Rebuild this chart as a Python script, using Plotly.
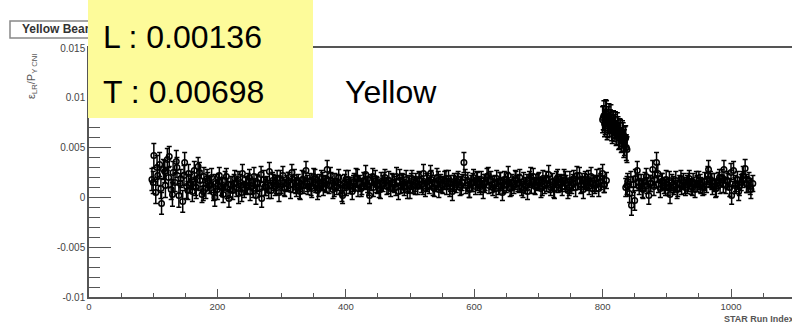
import plotly.graph_objects as go

# ---------------- data (asymmetry values and errors in units of 1e-4) ----------------
# Segment A: runs 98 .. 806 (every 3rd run index)
run_a = list(range(98, 807, 3))
asym_a = [
    18, 42, 5, 22, 33, -6, 28, 12, 38, 41,
    8, 25, 15, 30, 2, 19, -4, 35, 11, 24,
    14, 6, 27, 10, 31, 17, 3, 21, 9, 16,
    12, 20, 5, 14, 8, 22, 11, 3, 17, 9,
    -1, 13, 7, 19, 10, 4, 15, 24, 8, 12,
    16, 6, 11, 21, 2, 14, 9, -1, 18, 10,
    13, 26, 7, 15, 11, 19, 5, 12, 22, 9,
    14, 17, 8, 13, 20, 10, 15, 6, 18, 12,
    27, 11, 16, 9, 21, 13, 7, 15, 19, 10,
    14, 28, 12, 17, 8, 16, 11, 20, 13, 2,
    15, 10, 18, 12, 6, 16, 20, 9, 14, 11,
    17, 23, 13, 2, 15, 10, 19, 12, 8, 16,
    14, 20, 11, 17, 9, 15, 13, 21, 6, 12,
    16, 10, 18, 14, 7, 19, 12, 15, 11, 17,
    13, 24, 9, 16, 12, 18, 10, 14, 20, 8,
    15, 12, 17, 11, 19, 14, 6, 16, 13, 18,
    10, 15, 35, 12, 17, 9, 14, 20, 11, 16,
    13, 18, 8, 15, 21, 12, 17, 10, 14, 19,
    11, 16, 5, 18, 13, 22, 9, 15, 12, 17,
    14, 20, 10, 16, 12, 6, 18, 13, 21, 11,
    15, 17, 9, 19, 12, 14, 23, 10, 16, 8,
    18, 13, 15, 11, 20, 14, 7, 17, 12, 19,
    10, 16, 22, 13, 8, 18, 15, 11, 21, 14,
    12, 19, 9, 16, 24, 13, 17,
]
err_a = [
    11, 12, 11, 10, 12, 11, 10, 12, 11, 10,
    10, 11, 9, 10, 12, 9, 11, 10, 12, 9,
    9, 10, 9, 11, 9, 10, 8, 9, 10, 9,
    8, 9, 8, 9, 10, 8, 9, 8, 9, 10,
    9, 8, 9, 8, 9, 10, 8, 9, 8, 9,
    8, 9, 8, 9, 9, 8, 8, 9, 9, 8,
    8, 9, 8, 8, 9, 8, 9, 8, 9, 8,
    8, 8, 9, 8, 8, 9, 8, 8, 9, 8,
    9, 8, 8, 9, 8, 8, 9, 8, 8, 8,
    8, 9, 8, 8, 9, 8, 8, 8, 9, 8,
    8, 8, 9, 8, 8, 8, 9, 8, 8, 8,
    8, 9, 8, 8, 8, 9, 8, 8, 8, 9,
    8, 8, 8, 9, 8, 8, 8, 9, 8, 8,
    8, 8, 9, 8, 8, 8, 8, 9, 8, 8,
    8, 9, 8, 8, 8, 9, 8, 8, 9, 8,
    8, 8, 9, 8, 8, 8, 9, 8, 8, 8,
    8, 8, 10, 8, 8, 9, 8, 8, 8, 9,
    8, 8, 9, 8, 8, 8, 9, 8, 8, 8,
    8, 9, 8, 8, 8, 9, 8, 8, 8, 9,
    8, 8, 8, 9, 8, 8, 8, 9, 8, 8,
    8, 8, 9, 8, 8, 8, 9, 8, 8, 9,
    8, 8, 8, 9, 8, 8, 8, 9, 8, 8,
    9, 8, 8, 8, 9, 8, 8, 8, 9, 8,
    8, 9, 8, 8, 9, 8, 8,
]

# Segment A2: interleaved runs 100 .. 802
run_a2 = list(range(100, 806, 6))
asym_a2 = [
    15, 30, 9, 26, 20, 3, 36, 14, 22, 7,
    17, 11, 25, 6, 19, 13, 0, 16, 10, 21,
    8, 14, 18, 5, 12, 20, 9, 15, 23, 11,
    7, 17, 13, 19, 10, 16, 25, 12, 8, 18,
    14, 11, 20, 9, 16, 13, 22, 10, 15, 4,
    18, 12, 14, 19, 9, 16, 11, 21, 13, 8,
    17, 12, 15, 10, 20, 14, 7, 16, 12, 18,
    11, 15, 24, 9, 17, 13, 19, 10, 14, 16,
    12, 20, 8, 15, 18, 11, 14, 22, 13, 9,
    17, 12, 16, 10, 19, 14, 8, 15, 21, 12,
    16, 11, 18, 13, 9, 20, 14, 17, 10, 15,
    22, 12, 16, 18, 9, 14, 20, 13,
]
err_a2 = [
    11, 12, 10, 11, 10, 12, 11, 10, 10, 9,
    9, 9, 10, 9, 9, 8, 9, 8, 9, 8,
    8, 9, 8, 9, 8, 8, 9, 8, 8, 9,
    8, 8, 9, 8, 8, 9, 8, 8, 9, 8,
    8, 9, 8, 8, 9, 8, 8, 9, 8, 8,
    9, 8, 8, 9, 8, 8, 9, 8, 8, 9,
    8, 8, 9, 8, 8, 9, 8, 8, 9, 8,
    8, 9, 8, 8, 9, 8, 8, 9, 8, 8,
    9, 8, 8, 9, 8, 8, 9, 8, 8, 9,
    8, 8, 9, 8, 8, 9, 8, 8, 9, 8,
    8, 9, 8, 8, 9, 8, 8, 9, 8, 8,
    9, 8, 8, 9, 8, 8, 9, 8,
]

# Segment B: high group, runs 800 .. 838
run_b = list(range(800, 839, 2))
asym_b = [78, 82, 75, 84, 72, 80, 76, 70, 74, 68,
          73, 65, 69, 62, 66, 58, 63, 55, 60, 48]
err_b = [13, 15, 12, 13, 12, 14, 12, 13, 12, 12,
         13, 12, 12, 13, 12, 12, 12, 13, 12, 13]
run_b2 = list(range(801, 838, 2))
asym_b2 = [80, 74, 86, 70, 78, 73, 81, 67, 75, 71,
           64, 72, 60, 67, 57, 64, 52, 59, 50]
err_b2 = [12, 13, 12, 12, 13, 12, 12, 13, 12, 12,
          12, 13, 12, 12, 12, 13, 12, 12, 13]

# Segment C: runs 836 .. 1034
run_c = list(range(836, 1035, 3))
asym_c = [
    10, 16, 4, -8, 13, 19, 27, 11, 15, 8,
    17, 12, 2, 14, 28, 18, 35, 13, 9, 16,
    12, 18, 10, 3, 15, 11, 17, 9, 14, 12,
    16, 10, 13, 19, 11, 15, 8, 14, 17, 12,
    10, 16, 13, 28, 18, 11, 15, 9, 17, 13,
    20, 28, 12, 16, 10, 2, 27, 14, 18, 11,
    15, 22, 29, 13, 17, 8, 14,
]
err_c = [
    9, 8, 9, 10, 8, 9, 9, 8, 8, 9,
    8, 8, 9, 8, 9, 8, 10, 8, 9, 8,
    8, 9, 8, 9, 8, 8, 9, 8, 8, 9,
    8, 8, 9, 8, 8, 9, 8, 8, 9, 8,
    8, 9, 8, 9, 8, 8, 9, 8, 8, 9,
    8, 9, 8, 8, 9, 9, 9, 8, 8, 9,
    8, 9, 9, 8, 8, 9, 8,
]
run_c2 = list(range(838, 1034, 6))
asym_c2 = [
    12, 18, -3, 15, 9, 21, 14, 11, 24, 16,
    10, 17, 13, 8, 19, 12, 15, 10, 18, 14,
    11, 22, 16, 9, 20, 13, 17, 25, 12, 6,
    18, 14, 11,
]
err_c2 = [
    9, 8, 10, 8, 9, 8, 8, 9, 9, 8,
    8, 9, 8, 9, 8, 8, 9, 8, 8, 9,
    8, 9, 8, 9, 8, 8, 9, 9, 8, 9,
    8, 9, 8,
]

y_tickvals = [-0.01, -0.005, 0, 0.005, 0.01, 0.015]
y_ticktext = ["-0.01", "-0.005", "0", "0.005", "0.01", "0.015"]
x_tickvals = [0, 200, 400, 600, 800, 1000]
x_ticktext = ["0", "200", "400", "600", "800", "1000"]

SCALE = 1e-4

# ---------------- figure ----------------
W, H = 792, 324
L, R, T, B = 89, 0, 48, 27
PW, PH = W - L - R, H - T - B


def px(xp):
    return (xp - L) / PW


def py(yp):
    return (H - B - yp) / PH


fig = go.Figure()
series = [
    (run_a, asym_a, err_a), (run_a2, asym_a2, err_a2),
    (run_b, asym_b, err_b), (run_b2, asym_b2, err_b2),
    (run_c, asym_c, err_c), (run_c2, asym_c2, err_c2),
]
for xs, ys, es in series:
    fig.add_trace(go.Scatter(
        x=xs, y=[v * SCALE for v in ys],
        error_y=dict(type="data", array=[e * SCALE for e in es], color="black",
                     thickness=1.5, width=2.5),
        mode="markers",
        marker=dict(symbol="circle-open", size=5.5, color="black", line=dict(width=1.5)),
        showlegend=False, hoverinfo="skip",
    ))

axis_col = "#555555"
lab_font = dict(family="Liberation Sans, Arial, sans-serif", size=10, color="#444444")
xlab_font = dict(family="Liberation Sans, Arial, sans-serif", size=9.5, color="#444444")

fig.update_layout(
    width=W, height=H,
    margin=dict(l=L, r=R, t=T, b=B, pad=0),
    paper_bgcolor="white", plot_bgcolor="white",
    xaxis=dict(range=[0, 1095], showgrid=False, zeroline=False,
               showline=True, linecolor=axis_col, linewidth=1.5, mirror=True,
               tickvals=x_tickvals, ticktext=x_ticktext,
               ticks="inside", ticklen=8, tickcolor=axis_col,
               minor=dict(ticks="inside", ticklen=4, dtick=50, tick0=0, tickcolor=axis_col),
               tickfont=xlab_font),
    yaxis=dict(range=[-0.01, 0.015], showgrid=False, zeroline=False,
               showline=True, linecolor=axis_col, linewidth=1.5,
               tickvals=y_tickvals, ticktext=y_ticktext,
               ticks="inside", ticklen=22, tickcolor=axis_col,
               minor=dict(ticks="inside", ticklen=11, dtick=0.001, tick0=0, tickcolor=axis_col),
               tickfont=lab_font),
)

shapes = []
annotations = []

# canvas title box (partially hidden by the yellow box)
shapes.append(dict(type="rect", xref="paper", yref="paper",
                   x0=px(10), x1=px(100), y0=py(38), y1=py(21),
                   fillcolor="white", line=dict(color="#888888", width=1.5), layer="above"))
annotations.append(dict(xref="paper", yref="paper", x=px(20), y=py(29.5),
                        xanchor="left", yanchor="middle", showarrow=False,
                        text="<b>Yellow Beam</b>",
                        font=dict(family="Liberation Sans, Arial, sans-serif", size=12, color="#333333")))

# y-axis title (rotated)
annotations.append(dict(xref="paper", yref="paper", x=px(32), y=py(76),
                        xanchor="center", yanchor="middle", showarrow=False, textangle=-90,
                        text="ε<sub>LR</sub>/P<sub>Y CNI</sub>",
                        font=dict(family="Liberation Sans, Arial, sans-serif", size=11, color="#555555")))

# x-axis title (cut at the right edge as in the reference)
annotations.append(dict(xref="paper", yref="paper", x=px(722), y=py(318.5),
                        xanchor="left", yanchor="middle", showarrow=False,
                        text="<b>STAR Run Index</b>",
                        font=dict(family="Liberation Sans, Arial, sans-serif", size=9, color="#555555")))

fig.update_layout(shapes=shapes)

# yellow overlay box drawn as an annotation so it sits above the title box
annotations.append(dict(xref="paper", yref="paper", x=px(88), y=py(0),
                        xanchor="left", yanchor="top", showarrow=False,
                        text=" ", width=225, height=118, bgcolor="#FDFB9A",
                        borderwidth=0, borderpad=0,
                        font=dict(size=10)))

big = dict(family="Liberation Sans, Arial, sans-serif", size=32, color="black")
annotations.append(dict(xref="paper", yref="paper", x=px(101), y=py(37),
                        xanchor="left", yanchor="middle", showarrow=False,
                        text="L : 0.00136", font=big))
annotations.append(dict(xref="paper", yref="paper", x=px(101), y=py(92),
                        xanchor="left", yanchor="middle", showarrow=False,
                        text="T : 0.00698", font=big))
annotations.append(dict(xref="paper", yref="paper", x=px(343), y=py(92),
                        xanchor="left", yanchor="middle", showarrow=False,
                        text="Yellow", font=big))

fig.update_layout(annotations=annotations)

fig.write_html("out.html")
